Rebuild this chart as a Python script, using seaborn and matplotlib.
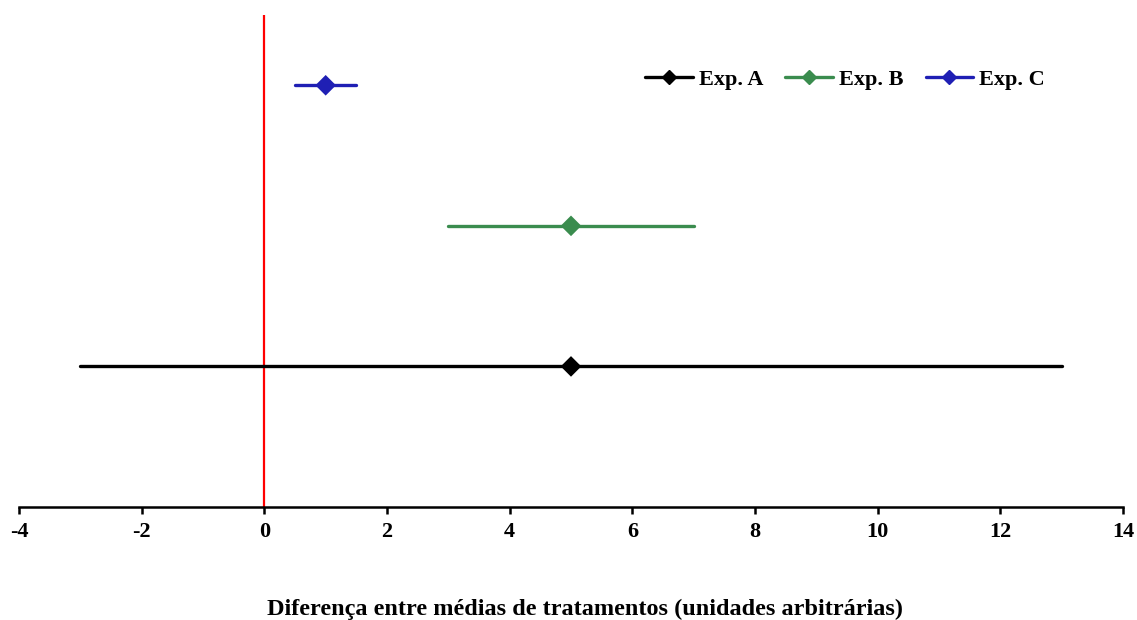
import matplotlib
matplotlib.use("Agg")
import matplotlib.pyplot as plt
from matplotlib.lines import Line2D
import pandas as pd
import seaborn as sns

# -------------------------------
# Data
# -------------------------------
experiments = ["Exp. A", "Exp. B", "Exp. C"]
means = [5, 5, 1]
lower = [-3, 3, 0.5]
upper = [13, 7, 1.5]
levels = [1, 2, 3]
colors = ["#000000", "#3a8c4e", "#1f1fb4"]

rows = []
for exp, lo, m, hi, lv in zip(experiments, lower, means, upper, levels):
    for x in (lo, m, hi):
        rows.append({"Experiment": exp, "x": x, "y": lv})
df = pd.DataFrame(rows)
pts = pd.DataFrame({"Experiment": experiments, "x": means, "y": levels})

sns.set_style("white")
plt.rcParams["font.family"] = ["Liberation Serif", "DejaVu Serif"]
plt.rcParams["font.weight"] = "bold"
plt.rcParams["axes.unicode_minus"] = False
plt.rcParams["text.color"] = "black"
plt.rcParams["axes.labelcolor"] = "black"
plt.rcParams["xtick.color"] = "black"

# -------------------------------
# Plot
# -------------------------------
fig = plt.figure(figsize=(11.37, 6.2), dpi=100)
ax = fig.add_axes([0.0167, 0.1823, 0.971, 0.7935])

palette = dict(zip(experiments, colors))
ax.axvline(0, color="#ff0000", lw=1.6, zorder=1)
sns.lineplot(data=df, x="x", y="y", hue="Experiment", units="Experiment",
             estimator=None, sort=False, palette=palette, lw=2.4,
             legend=False, ax=ax, zorder=2)
sns.scatterplot(data=pts, x="x", y="y", hue="Experiment", palette=palette,
                marker="D", s=110, edgecolor="none", legend=False, ax=ax, zorder=3)

ax.set_xlim(-4, 14)
ax.set_ylim(0, 3.5)
ax.set_xticks(range(-4, 15, 2))
ax.set_yticks([])
ax.set_ylabel("")
ax.set_xlabel("Diferença entre médias de tratamentos (unidades arbitrárias)",
              fontsize=17.5, fontweight="bold", labelpad=41)
ax.xaxis.label.set_x(0.513)
ax.tick_params(axis="x", bottom=True, direction="out", length=5, width=1.8,
               labelsize=16, pad=6, colors="black")
for lab in ax.get_xticklabels():
    lab.set_fontweight("bold")

for side in ["top", "right", "left"]:
    ax.spines[side].set_visible(False)
ax.spines["bottom"].set_linewidth(1.8)
ax.spines["bottom"].set_color("black")

handles = [Line2D([0], [0], color=c, lw=2.4, marker="D", markersize=7)
           for c in colors]
ax.legend(handles, experiments, ncol=3, loc="center right", frameon=False,
          bbox_to_anchor=(0.929, 0.868), borderaxespad=0, borderpad=0,
          handlelength=2.15, columnspacing=1.0, handletextpad=0.25,
          prop={"weight": "bold", "size": 16})

plt.savefig("out.png", dpi=100)
